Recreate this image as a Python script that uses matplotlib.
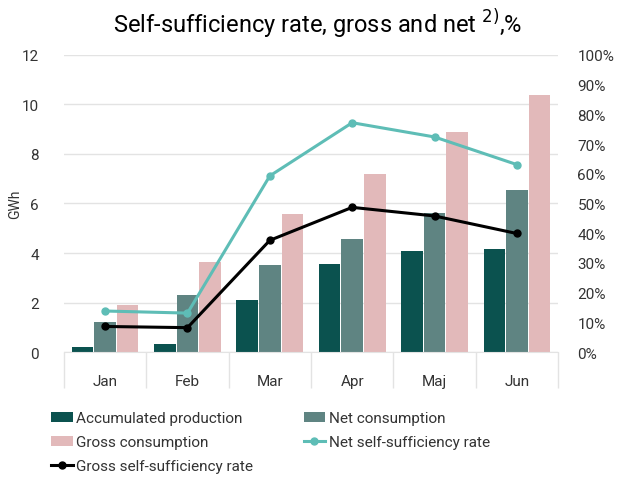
import matplotlib
matplotlib.use("Agg")
import matplotlib.pyplot as plt
import numpy as np
from matplotlib.ticker import FuncFormatter

plt.rcParams['font.family'] = ['Roboto', 'DejaVu Sans']

months = ["Jan", "Feb", "Mar", "Apr", "Maj", "Jun"]
accumulated_production = [0.19, 0.32, 2.1, 3.54, 4.08, 4.16]
net_consumption = [1.2, 2.3, 3.51, 4.56, 5.61, 6.54]
gross_consumption = [1.9, 3.62, 5.56, 7.21, 8.87, 10.38]
net_rate = [13.8, 13.1, 59.3, 77.2, 72.4, 63.1]
gross_rate = [8.6, 8.2, 37.6, 48.7, 45.8, 39.9]

c_prod = "#0b524f"
c_net = "#5f8482"
c_gross = "#e2b9ba"
c_netrate = "#5ebdb6"
c_grossrate = "#000000"
grid_c = "#e3e3e3"
text_c = "#333333"

fig = plt.figure(figsize=(6.23, 4.81), dpi=100)
ax = fig.add_axes([0.1027, 0.2661, 0.793, 0.6175])
x = np.arange(len(months))
w = 0.26
off = 0.275
b1 = ax.bar(x - off, accumulated_production, w, color=c_prod, label="Accumulated production", zorder=2)
b2 = ax.bar(x, net_consumption, w, color=c_net, label="Net consumption", zorder=2)
b3 = ax.bar(x + off, gross_consumption, w, color=c_gross, label="Gross consumption", zorder=2)

ax.set_ylim(0, 12)
ax.set_xlim(-0.5, len(months) - 0.5)
ax.set_yticks(np.arange(0, 13, 2))
ax.yaxis.grid(True, color=grid_c, linewidth=1)
ax.set_axisbelow(True)
for s in ["top", "right", "left"]:
    ax.spines[s].set_visible(False)
ax.spines["bottom"].set_color(grid_c)
ax.set_xticks(x)
ax.set_xticklabels(months)
ax.set_xticks(np.arange(-0.5, len(months), 1), minor=True)
ax.tick_params(axis="x", which="major", length=0, pad=16, labelsize=11, labelcolor=text_c)
ax.tick_params(axis="x", which="minor", length=26, color=grid_c, width=1, direction="out")
ax.tick_params(axis="y", length=0, pad=18, labelsize=11, labelcolor=text_c)
ax.set_ylabel("GWh", fontsize=10, color=text_c)
ax.yaxis.set_label_coords(-0.085, 0.5)

ax2 = ax.twinx()
ax2.set_ylim(0, 100)
ax2.set_yticks(np.arange(0, 101, 10))
ax2.yaxis.set_major_formatter(FuncFormatter(lambda v, p: f"{int(v)}%"))
ax2.tick_params(axis="y", length=0, pad=14, labelsize=11, labelcolor=text_c)
for s in ["top", "right", "left", "bottom"]:
    ax2.spines[s].set_visible(False)
l1, = ax2.plot(x, net_rate, color=c_netrate, marker="o", markersize=5, linewidth=2.2,
               label="Net self-sufficiency rate", zorder=3)
l2, = ax2.plot(x, gross_rate, color=c_grossrate, marker="o", markersize=5, linewidth=2.2,
               label="Gross self-sufficiency rate", zorder=3)

fig.suptitle("Self-sufficiency rate, gross and net $^{2)}$,%", x=0.51, y=0.985,
             fontsize=17, color="#000000")

handles = [b1, b3, l2, b2, l1]
labels = [h.get_label() for h in handles]
fig.legend(handles, labels, ncol=2, loc="upper left", bbox_to_anchor=(0.06, 0.171),
           bbox_transform=fig.transFigure,
           frameon=False, fontsize=11, labelcolor=text_c, handlelength=1.4,
           handletextpad=0.25, columnspacing=3.3, labelspacing=0.65)

fig.savefig("out.png", dpi=100)
